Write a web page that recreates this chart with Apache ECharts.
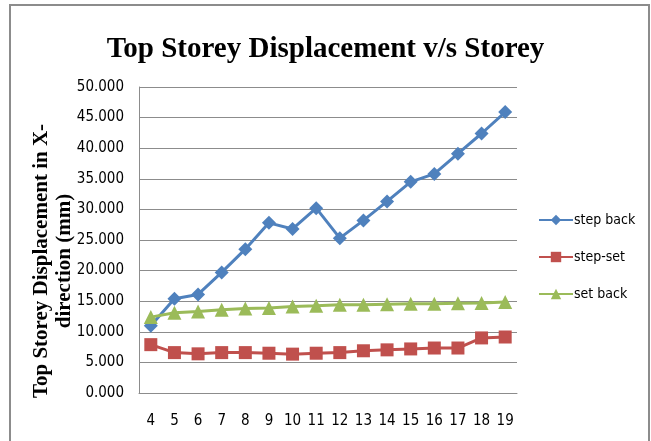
<!DOCTYPE html>
<html>
<head>
<meta charset="utf-8">
<script src="https://cdn.jsdelivr.net/npm/echarts@6/dist/echarts.min.js"></script>
<style>
html, body { margin: 0; padding: 0; background: #fff; }
#main { width: 651px; height: 441px; }
</style>
</head>
<body>
<div id="main"></div>
<script>
var storeys = ['4', '5', '6', '7', '8', '9', '10', '11', '12', '13', '14', '15', '16', '17', '18', '19'];
var stepBack = [11.0, 15.4, 16.1, 19.7, 23.5, 27.8, 26.8, 30.2, 25.3, 28.2, 31.3, 34.5, 35.8, 39.1, 42.4, 45.9];
var stepSet = [7.9, 6.6, 6.4, 6.6, 6.6, 6.5, 6.35, 6.5, 6.6, 6.9, 7.05, 7.2, 7.35, 7.35, 9.0, 9.15];
var setBack = [12.4, 13.1, 13.3, 13.6, 13.8, 13.9, 14.15, 14.25, 14.4, 14.4, 14.5, 14.6, 14.6, 14.65, 14.7, 14.85];

var labelFont = '"Liberation Sans Narrow", "DejaVu Sans Condensed", "Liberation Sans", sans-serif';
var serif = '"Liberation Serif", "DejaVu Serif", serif';

var myChart = echarts.init(document.getElementById('main'));
var option = {
    backgroundColor: '#fff',
    graphic: [
        {
            type: 'rect',
            shape: { x: 10, y: 5, width: 639, height: 445 },
            style: { fill: 'none', stroke: '#8c8c8c', lineWidth: 2 },
            silent: true
        },
        {
            type: 'text',
            x: 42, y: 261,
            rotation: Math.PI / 2,
            style: {
                text: 'Top Storey Displacement in X-',
                font: 'bold 21px ' + serif,
                fill: '#000',
                align: 'center',
                verticalAlign: 'middle'
            }
        },
        {
            type: 'text',
            x: 65, y: 261,
            rotation: Math.PI / 2,
            style: {
                text: 'direction (mm)',
                font: 'bold 21px ' + serif,
                fill: '#000',
                align: 'center',
                verticalAlign: 'middle'
            }
        }
    ],
    title: {
        text: 'Top Storey Displacement v/s Storey',
        left: 'center',
        top: 30,
        textStyle: {
            fontFamily: serif,
            fontWeight: 'bold',
            fontSize: 29,
            color: '#000'
        }
    },
    legend: {
        orient: 'vertical',
        left: 533,
        top: 208,
        itemGap: 23,
        itemWidth: 34,
        itemHeight: 13,
        textStyle: { fontFamily: labelFont, fontSize: 14, color: '#000', padding: [0, 0, 0, -4] },
        data: ['step back', 'step-set', 'set back']
    },
    grid: { left: 139, right: 134, top: 87, bottom: 48 },
    xAxis: {
        type: 'category',
        data: storeys,
        boundaryGap: true,
        axisLine: { lineStyle: { color: '#8c8c8c', width: 1 } },
        axisTick: { show: false },
        axisLabel: { color: '#000', fontFamily: labelFont, fontSize: 15, margin: 21 }
    },
    yAxis: {
        type: 'value',
        min: 0,
        max: 50,
        interval: 5,
        axisLine: { show: true, lineStyle: { color: '#8c8c8c', width: 1 } },
        axisTick: { show: false },
        splitLine: { lineStyle: { color: '#8c8c8c', width: 1 } },
        axisLabel: {
            color: '#000',
            fontFamily: labelFont,
            fontSize: 15,
            margin: 15,
            formatter: function (v) { return v.toFixed(3); }
        }
    },
    series: [
        {
            name: 'step back',
            type: 'line',
            data: stepBack,
            symbol: 'diamond',
            symbolSize: 14,
            color: '#4f81bd',
            lineStyle: { width: 3 },
            itemStyle: { color: '#4f81bd' }
        },
        {
            name: 'step-set',
            type: 'line',
            data: stepSet,
            symbol: 'rect',
            symbolSize: 13,
            color: '#c0504d',
            lineStyle: { width: 3 },
            itemStyle: { color: '#c0504d' }
        },
        {
            name: 'set back',
            type: 'line',
            data: setBack,
            symbol: 'triangle',
            symbolSize: 14,
            color: '#9bbb59',
            lineStyle: { width: 3 },
            itemStyle: { color: '#9bbb59' }
        }
    ]
};
myChart.setOption(option);
</script>
</body>
</html>
